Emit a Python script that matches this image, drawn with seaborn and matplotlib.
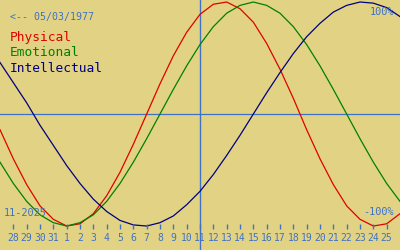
import matplotlib
matplotlib.use("Agg")
import matplotlib.pyplot as plt
import seaborn as sns
import pandas as pd

# Day index (0 = Oct 28 2025)
day_index = list(range(-1, 30))
physical = [-0.14, -0.40, -0.63, -0.82, -0.94, -1.00, -0.98, -0.89, -0.73, -0.52,
            -0.27, 0.00, 0.27, 0.52, 0.73, 0.89, 0.98, 1.00, 0.94, 0.82,
            0.63, 0.40, 0.14, -0.14, -0.40, -0.63, -0.82, -0.94, -1.00, -0.98,
            -0.89]
emotional = [-0.43, -0.62, -0.78, -0.90, -0.97, -1.00, -0.97, -0.90, -0.78, -0.62,
             -0.43, -0.22, 0.00, 0.22, 0.43, 0.62, 0.78, 0.90, 0.97, 1.00,
             0.97, 0.90, 0.78, 0.62, 0.43, 0.22, 0.00, -0.22, -0.43, -0.62,
             -0.78]
intellectual = [0.46, 0.28, 0.10, -0.10, -0.28, -0.46, -0.62, -0.76, -0.87, -0.95,
                -0.99, -1.00, -0.97, -0.91, -0.81, -0.69, -0.54, -0.37, -0.19, 0.00,
                0.19, 0.37, 0.54, 0.69, 0.81, 0.91, 0.97, 1.00, 0.99, 0.95,
                0.87]
tick_labels = ["28", "29", "30", "31"] + [str(d) for d in range(1, 26)]
today_index = 14
birth_text = "<-- 05/03/1977"
month_text = "11-2025"

BG = "#e2d384"
TXT = "#3f72c4"
colors = {"Physical": "#e00000", "Emotional": "#008000", "Intellectual": "#000080"}
mono = "DejaVu Sans Mono"

df = pd.DataFrame({
    "day": day_index * 3,
    "value": physical + emotional + intellectual,
    "series": ["Physical"] * len(day_index) + ["Emotional"] * len(day_index)
              + ["Intellectual"] * len(day_index),
})

fig = plt.figure(figsize=(4, 2.5), dpi=100)
fig.patch.set_facecolor(BG)
ax = fig.add_axes([0, 0, 1, 1])
ax.set_facecolor(BG)

ax.axhline(0, color=TXT, lw=0.9, zorder=1)
ax.axvline(today_index, color=TXT, lw=1.0, zorder=1)

sns.lineplot(data=df, x="day", y="value", hue="series", palette=colors,
             linewidth=0.9, legend=False, ax=ax, zorder=2)

ax.set_xlim(-1, 29)
ax.set_ylim(-1.214, 1.018)
ax.axis("off")

tick_pos = list(range(len(tick_labels)))
ax.vlines(tick_pos, -0.982, -1.027, color=TXT, lw=1.0)
for p, lab in zip(tick_pos, tick_labels):
    ax.text(p, -1.107, lab, color=TXT, fontsize=7.0, family=mono,
            ha="center", va="center")


def put(xpx, ypx, s, color, size, ha="left"):
    fig.text(xpx / 400, 1 - ypx / 250, s, color=color, fontsize=size,
             family=mono, va="center", ha=ha)


put(10, 17, birth_text, TXT, 7.2)
put(10, 38, "Physical", colors["Physical"], 9.3)
put(10, 53, "Emotional", colors["Emotional"], 9.3)
put(10, 68, "Intellectual", colors["Intellectual"], 9.3)
put(4, 213, month_text, TXT, 7.4)
put(394, 12, "100%", TXT, 7.4, ha="right")
put(394, 212, "-100%", TXT, 7.4, ha="right")

fig.savefig("out.png", dpi=100, facecolor=BG)
